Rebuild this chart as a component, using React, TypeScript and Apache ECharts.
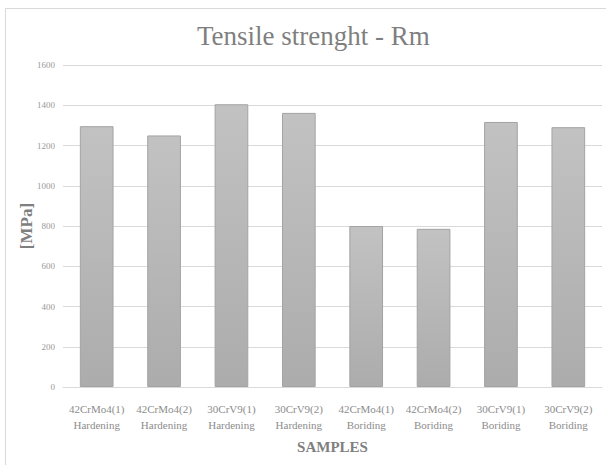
import React, { useEffect, useRef } from "react";
import * as echarts from "echarts";

const samples = [
  "42CrMo4(1)\nHardening",
  "42CrMo4(2)\nHardening",
  "30CrV9(1)\nHardening",
  "30CrV9(2)\nHardening",
  "42CrMo4(1)\nBoriding",
  "42CrMo4(2)\nBoriding",
  "30CrV9(1)\nBoriding",
  "30CrV9(2)\nBoriding",
];
const rmValues = [1296, 1250, 1405, 1362, 800, 786, 1317, 1291];
const yTicks = [0, 200, 400, 600, 800, 1000, 1200, 1400, 1600];

const SERIF = "'Liberation Serif', 'DejaVu Serif', serif";

export default function App() {
  const ref = useRef<HTMLDivElement>(null);

  useEffect(() => {
    if (!ref.current) return;
    const chart = echarts.init(ref.current, null, { renderer: "svg" });
    chart.setOption({
      animation: false,
      backgroundColor: "#ffffff",
      title: {
        text: "Tensile strenght - Rm",
        left: 192,
        top: 17,
        textStyle: {
          fontFamily: SERIF,
          fontSize: 27,
          fontWeight: "normal",
          color: "#7f7f7f",
        },
      },
      graphic: [
        {
          type: "rect",
          shape: { x: 5.5, y: 8.5, width: 640, height: 500 },
          style: { fill: "none", stroke: "#d9d9d9", lineWidth: 1 },
          silent: true,
          z: 0,
        },
      ],
      grid: { left: 63, right: 4, top: 65, bottom: 78 },
      xAxis: {
        type: "category",
        data: samples,
        name: "SAMPLES",
        nameLocation: "middle",
        nameGap: 52,
        nameMoveOverlap: false,
        nameTextStyle: {
          fontFamily: SERIF,
          fontSize: 15,
          fontWeight: "bold",
          color: "#7f7f7f",
        },
        axisLine: { lineStyle: { color: "#d9d9d9", width: 1 } },
        axisTick: { show: false },
        axisLabel: {
          interval: 0,
          margin: 14,
          fontFamily: SERIF,
          fontSize: 11,
          lineHeight: 16,
          color: "#8c8c8c",
        },
      },
      yAxis: {
        type: "value",
        min: yTicks[0],
        max: yTicks[yTicks.length - 1],
        interval: 200,
        name: "[MPa]",
        nameLocation: "middle",
        nameRotate: 90,
        nameGap: 28,
        nameMoveOverlap: false,
        nameTextStyle: {
          fontFamily: SERIF,
          fontSize: 17,
          fontWeight: "bold",
          color: "#7f7f7f",
        },
        axisLine: { show: false },
        axisTick: { show: false },
        axisLabel: {
          margin: 8,
          fontFamily: SERIF,
          fontSize: 9,
          color: "#999999",
          formatter: (v: number) => String(v),
        },
        splitLine: { lineStyle: { color: "#d9d9d9", width: 1 } },
      },
      series: [
        {
          type: "bar",
          data: rmValues,
          barCategoryGap: "50%",
          itemStyle: {
            color: new echarts.graphic.LinearGradient(0, 0, 0, 1, [
              { offset: 0, color: "#c2c2c2" },
              { offset: 1, color: "#acacac" },
            ]),
            borderColor: "#a3a3a3",
            borderWidth: 1,
          },
        },
      ],
    });
    return () => chart.dispose();
  }, []);

  return (
    <div
      ref={ref}
      style={{ position: "fixed", left: 0, top: 0, width: 606, height: 465 }}
    />
  );
}
